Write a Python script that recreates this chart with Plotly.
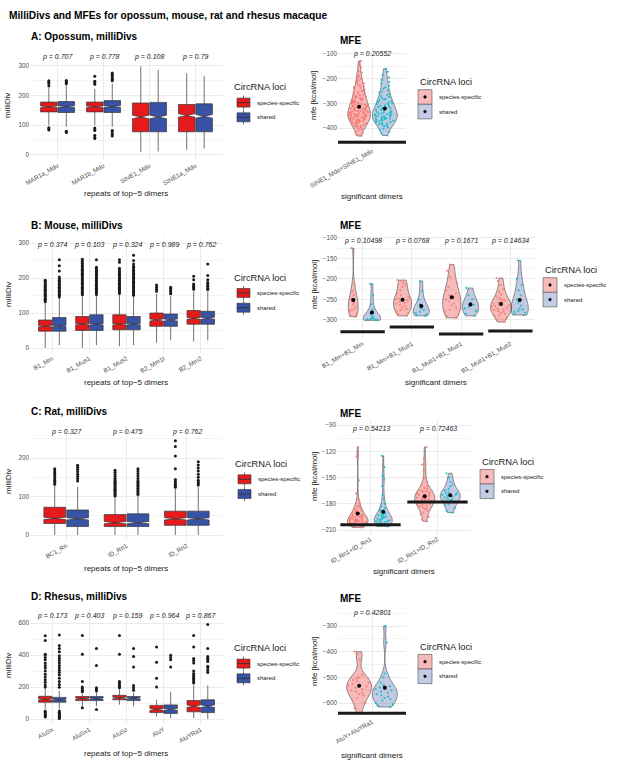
import numpy as np
import plotly.graph_objects as go

W, H = 617, 769
FONT = "Liberation Sans, Arial, sans-serif"
RED = "#E41A1C"
BLUE = "#3953A4"
RED_FILL = "rgba(228,26,28,0.3)"
BLUE_FILL = "rgba(57,83,164,0.3)"
RED_KEY = "#F7BABB"
BLUE_KEY = "#C4CBE4"
RED_PT = "#F8766D"
BLUE_PT = "#00BFC4"
GROUPS = ["species-specific", "shared"]

# ---------------- milliDivs (box stats: q1, median, q3, lower whisker, upper whisker)
opossum_repeats = ["MAR1a_Mdo", "MAR1b_Mdo", "SINE1_Mdo", "SINE1a_Mdo"]
opossum_p = ["0.707", "0.778", "0.108", "0.79"]
opossum_ss_box = [[145, 162, 178, 100, 228], [145, 162, 178, 100, 222], [78, 128, 175, 10, 298], [78, 133, 170, 17, 275]]
opossum_sh_box = [[143, 163, 180, 95, 235], [143, 163, 183, 95, 240], [78, 128, 177, 12, 287], [78, 130, 172, 22, 265]]
opossum_ss_notch = [3, 3, 6, 6]
opossum_sh_notch = [3, 3, 6, 6]
opossum_ss_out = [[250, 246, 241, 233, 92, 88, 84], [265, 248, 243, 238, 91, 86, 82, 66, 60, 55], [], []]
opossum_sh_out = [[251, 247, 243, 240, 80, 76], [276, 271, 266, 261, 255, 250, 82, 77, 70, 64], [], []]

mouse_repeats = ["B1_Mm", "B1_Mus1", "B1_Mus2", "B2_Mm1t", "B2_Mm2"]
mouse_p = ["0.374", "0.103", "0.324", "0.989", "0.762"]
mouse_ss_box = [[48, 62, 80, 0, 128], [50, 68, 90, 0, 148], [52, 68, 95, 5, 152], [62, 80, 100, 15, 155], [68, 85, 107, 18, 162]]
mouse_sh_box = [[48, 63, 87, 8, 143], [50, 68, 95, 8, 150], [52, 68, 90, 8, 148], [62, 80, 97, 22, 148], [68, 85, 105, 22, 162]]
mouse_ss_notch = [2, 2, 2, 3, 3]
mouse_sh_notch = [2, 2, 2, 3, 3]
mouse_ss_out = [
    [132, 136, 139, 143, 147, 150, 154, 157, 161, 165, 168, 172, 175, 179, 183, 186, 190, 194],
    [152, 156, 159, 163, 167, 170, 174, 178, 181, 185, 189, 192, 196, 200, 203, 207, 211, 214, 218, 222, 225, 229, 233, 237, 242, 248, 254],
    [156, 160, 163, 167, 171, 174, 178, 182, 185, 189, 193, 196, 200, 204, 207, 211, 215, 219, 223, 228, 245, 252],
    [162, 168, 174, 180],
    [168, 172, 176, 180, 183, 195, 205],
]
mouse_sh_out = [
    [146, 150, 154, 158, 162, 166, 170, 174, 178, 182, 186, 190, 194, 198, 203, 220, 235, 252],
    [153, 157, 160, 164, 168, 171, 175, 179, 182, 186, 190, 193, 197, 201, 204, 208, 212, 215, 219, 223, 227, 231, 252],
    [151, 155, 158, 162, 166, 169, 173, 177, 180, 184, 188, 191, 195, 199, 202, 206, 210, 214, 218, 222, 226, 230, 234, 240, 250, 265],
    [155, 160, 165, 170, 174],
    [167, 171, 175, 179, 183, 187, 195, 207, 240],
]

rat_repeats = ["BC1_Rn", "ID_Rn1", "ID_Rn2"]
rat_p = ["0.327", "0.475", "0.762"]
rat_ss_box = [[30, 43, 72, 0, 128], [22, 32, 53, 0, 98], [25, 42, 62, 0, 120]]
rat_sh_box = [[22, 42, 65, 0, 125], [22, 32, 55, 0, 102], [25, 42, 62, 0, 126]]
rat_ss_notch = [3, 3, 3]
rat_sh_notch = [3, 3, 3]
rat_ss_out = [
    [132, 137, 142, 147, 152, 157, 162, 167, 172],
    [101, 104, 107, 110, 113, 116, 119, 122, 125, 128, 131, 134, 137, 140, 143, 147, 152, 157, 163, 168],
    [124, 128, 132, 136, 140, 144, 172, 205, 230, 245],
]
rat_sh_out = [
    [140, 146, 152, 158, 164, 170, 176, 181],
    [105, 109, 113, 117, 121, 125, 129, 133, 137, 141, 147, 153, 160, 166, 172],
    [130, 134, 138, 142, 150, 158, 166, 174, 182, 190],
]

rhesus_repeats = ["AluSx", "AluSx1", "AluSz", "AluY", "AluYRa1"]
rhesus_p = ["0.173", "0.403", "0.159", "0.964", "0.867"]
rhesus_ss_box = [[105, 122, 142, 60, 195], [115, 127, 140, 80, 160], [120, 132, 148, 90, 185], [40, 60, 85, 15, 120], [45, 80, 115, 5, 210]]
rhesus_sh_box = [[105, 120, 135, 65, 178], [115, 127, 140, 80, 165], [115, 130, 140, 80, 165], [35, 60, 88, 5, 170], [40, 80, 120, 0, 210]]
rhesus_ss_notch = [4, 4, 5, 6, 8]
rhesus_sh_notch = [4, 4, 5, 6, 8]
rhesus_ss_out = [
    [200, 212, 230, 245, 262, 280, 300, 318, 335, 350, 370, 385, 400, 405, 490, 520, 12, 18, 25, 32, 40, 48],
    [170, 180, 190, 200, 235, 405, 522, 70],
    [195, 205, 215, 225, 235, 405, 522],
    [200, 255, 355, 450],
    [225, 235, 245, 255, 265, 275, 285, 300, 350, 365, 378, 450, 522],
]
rhesus_sh_out = [
    [198, 215, 235, 255, 275, 290, 305, 320, 335, 350, 365, 380, 395, 420, 440, 460, 525, 3, 8, 14, 20, 27, 34, 42, 50],
    [175, 185, 195, 335, 440, 60],
    [180, 195, 210, 325, 390, 440],
    [325, 370, 385, 398],
    [290, 305, 320, 330, 360, 370, 380, 390, 440, 590],
]

# ---------------- MFEs (kcal/mol) per significant dimer
opossum_dimers = ["SINE1_Mdo+SINE1_Mdo"]
opossum_mfe_p = ["0.20552"]
opossum_mfe_base = [-457]
opossum_mfe_ss = [[
    -128, -142, -155, -168, -175, -183, -190, -196, -201, -206, -211, -215, -219, -223, -227, -231, -234, -238,
    -241, -244, -247, -250, -253, -256, -258, -261, -263, -266, -268, -270, -272, -275, -277, -279, -281, -283,
    -285, -287, -289, -291, -293, -294, -296, -298, -300, -301, -303, -305, -306, -308, -310, -311, -313, -315,
    -316, -318, -320, -321, -323, -325, -326, -328, -330, -331, -333, -335, -336, -338, -340, -341, -343, -345,
    -346, -348, -350, -352, -354, -356, -358, -360, -362, -364, -366, -368, -370, -372, -375, -377, -380, -383,
    -386, -389, -392, -395, -398, -402, -406, -410, -415, -420, -426, -432, -335, -342, -348, -352, -357, -361,
    -365, -371, -378, -344, -338, -329, -317, -355, -362, -368, -374, -381, -388, -394, -347, -333,
]]
opossum_mfe_sh = [[
    -160, -172, -185, -195, -205, -213, -220, -228, -235, -241, -247, -252, -257, -262, -266, -270, -274, -278,
    -282, -285, -288, -291, -294, -297, -300, -302, -305, -308, -310, -313, -315, -318, -320, -322, -325, -327,
    -330, -332, -334, -337, -339, -341, -344, -346, -348, -351, -353, -356, -358, -361, -364, -367, -370, -373,
    -376, -380, -384, -388, -392, -397, -402, -408, -415, -422, -430, -340, -347, -352, -357, -362, -369, -375,
    -382, -335, -344, -359, -366, -390,
]]

mouse_dimers = ["B1_Mm+B1_Mm", "B1_Mm+B1_Mus1", "B1_Mus1+B1_Mus1", "B1_Mus1+B1_Mus2"]
mouse_mfe_p = ["0.10498", "0.0768", "0.1671", "0.14634"]
mouse_mfe_base = [-329, -317, -334, -327]
mouse_mfe_ss = [
    [-125, -212, -230, -240, -248, -252, -258, -262, -270, -275, -278, -285, -290, -292],
    [-203, -205, -210, -215, -220, -228, -235, -240, -245, -248, -250, -253, -256, -258, -260, -263, -266, -270,
     -273, -276, -280, -283, -286, -290],
    [-165, -180, -195, -210, -220, -228, -235, -240, -245, -250, -255, -260, -265, -270, -275, -280, -286, -290, -295],
    [-198, -205, -215, -225, -232, -238, -242, -246, -250, -253, -256, -258, -260, -262, -264, -266, -268, -270,
     -272, -274, -276, -278, -280, -282, -285, -288, -291, -295, -300, -305],
]
mouse_mfe_sh = [
    [-212, -240, -262, -275, -283, -288, -292, -295, -297, -298, -299, -300, -300, -301],
    [-205, -230, -250, -262, -268, -272, -276, -280, -283, -286, -288, -290],
    [-222, -240, -250, -258, -263, -268, -272, -278, -285, -290],
    [-155, -200, -215, -228, -240, -250, -258, -265, -272, -275, -278, -280, -282, -285, -288],
]

rat_dimers = ["ID_Rn1+ID_Rn1", "ID_Rn1+ID_Rn2"]
rat_mfe_p = ["0.54213", "0.72463"]
rat_mfe_base = [-204, -178]
rat_mfe_ss = [
    [-115, -123, -126, -153, -168, -175, -178, -180, -182, -183, -184, -185, -186, -187, -188, -189, -190, -190,
     -191, -192, -193, -193, -194, -195, -195, -196, -196, -197, -197, -198, -198, -199, -199, -199, -200, -200,
     -200, -201, -201, -201, -202, -202, -202, -203, -203, -203, -204, -204, -204, -205, -205, -205, -206, -206,
     -207, -198, -196, -194, -192, -200],
    [-115, -128, -135, -142, -150, -155, -158, -160, -162, -163, -165, -166, -167, -168, -169, -170, -171, -172,
     -173, -174, -175, -175, -176, -177, -178, -179, -180, -181, -182, -183, -184, -185, -186, -188, -190, -192,
     -195, -198, -200, -170, -172, -174, -168, -166, -178, -180],
]
rat_mfe_sh = [
    [-125, -138, -148, -152, -160, -170, -175, -180, -183, -185, -187, -189, -190, -191, -192, -193, -194, -195,
     -196, -197, -198, -199, -200, -200, -201, -201, -202, -202, -203, -203, -204, -204, -205, -205, -205, -206,
     -199, -197, -195, -193],
    [-145, -150, -155, -158, -160, -163, -165, -167, -168, -170, -171, -172, -173, -174, -175, -176, -178, -180,
     -182, -185, -188, -190, -170, -168],
]

rhesus_dimers = ["AluY+AluYRa1"]
rhesus_mfe_p = ["0.42801"]
rhesus_mfe_base = [-639]
rhesus_mfe_ss = [[-400, -410, -430, -490, -500, -505, -510, -515, -520, -525, -530, -535, -540, -545, -550,
                  -555, -560, -565, -570, -580, -590, -600, -620, -640]]
rhesus_mfe_sh = [[-300, -365, -485, -500, -520, -530, -535, -540, -545, -550, -555, -560, -565, -570, -575,
                  -580, -585, -590, -600, -605, -610, -615]]

# violin widths (x units) as drawn, per dimer: [species-specific, shared]
opossum_vw = [[0.30, 0.33]]
mouse_vw = [[0.20, 0.35], [0.37, 0.33], [0.37, 0.33], [0.43, 0.35]]
rat_vw = [[0.31, 0.27], [0.30, 0.30]]
rhesus_vw = [[0.33, 0.33]]


def fx(px):
    return px / W


def fy(py):
    return 1 - py / H


fig = go.Figure()
layout = {}
annotations = []
shapes = []


def axes(k, xdom, ydom, xrange_, yrange_, n, labels, dtick, minor):
    sx = "" if k == 1 else str(k)
    layout["xaxis" + sx] = dict(
        domain=[fx(xdom[0]), fx(xdom[1])], range=xrange_, anchor="y" + sx,
        tickvals=list(range(1, n + 1)), ticktext=labels, tickangle=-30,
        showgrid=True, gridcolor="#EBEBEB", gridwidth=0.8, zeroline=False, showline=False,
        ticks="", tickfont=dict(size=6.3, color="#4D4D4D"), automargin=False,
    )
    layout["yaxis" + sx] = dict(
        domain=[fy(ydom[1]), fy(ydom[0])], range=yrange_, anchor="x" + sx,
        dtick=dtick, tick0=0, showgrid=True, gridcolor="#EBEBEB", gridwidth=0.8,
        minor=dict(dtick=minor, showgrid=True, gridcolor="#F4F4F4", gridwidth=0.5),
        zeroline=False, showline=False, ticks="", tickfont=dict(size=6.3, color="#4D4D4D"),
        automargin=False,
    )
    return "x" + sx, "y" + sx


def text(s, xpx, ypx, size, bold=False, angle=0, xanchor="left"):
    annotations.append(dict(
        text="<b>%s</b>" % s if bold else s, x=fx(xpx), y=fy(ypx), xref="paper", yref="paper",
        xanchor=xanchor, yanchor="middle", showarrow=False, textangle=angle,
        font=dict(size=size, color="#000000" if bold else "#1A1A1A", family=FONT),
    ))


def rect(x0, y0, x1, y1, fill, line="#333333", lw=0.6, kind="rect"):
    shapes.append(dict(type=kind, xref="paper", yref="paper", x0=fx(x0), x1=fx(x1), y0=fy(y1), y1=fy(y0),
                       fillcolor=fill, line=dict(color=line, width=lw)))


def seg(x0, y0, x1, y1, color="#333333", lw=0.8):
    shapes.append(dict(type="line", xref="paper", yref="paper", x0=fx(x0), x1=fx(x1), y0=fy(y0), y1=fy(y1),
                       line=dict(color=color, width=lw)))


def box_legend(xt, yt):
    # ggplot-style key: boxplot glyph
    text("CircRNA loci", xt, yt, 9.3)
    for j, col in enumerate([RED, BLUE]):
        yc = yt + 15.3 + j * 14.7
        seg(xt + 11.5, yc - 7, xt + 11.5, yc + 7, "#4D4D4D", 0.8)
        rect(xt + 5, yc - 4.5, xt + 18, yc + 4.5, col)
        seg(xt + 5, yc, xt + 18, yc, "#333333", 0.9)
        text(GROUPS[j], xt + 23, yc, 6)


def violin_legend(xt, yt):
    text("CircRNA loci", xt, yt, 9.3)
    for j, col in enumerate([RED_KEY, BLUE_KEY]):
        yc = yt + 15 + j * 14.6
        rect(xt, yc - 7.3, xt + 14, yc + 7.3, col, "#4D4D4D", 0.6)
        rect(xt + 5.6, yc - 1.4, xt + 8.4, yc + 1.4, "#000000", "#000000", 0.3, kind="circle")
        text(GROUPS[j], xt + 19, yc, 6)


def box_panel(k, repeats, pvals, p_y, boxes, notches, outs, xdom, ydom, yrange_, dtick, minor, leg_xy):
    n = len(repeats)
    xa, ya = axes(k, xdom, ydom, [0.4, n + 0.6], yrange_, n, repeats, dtick, minor)
    for g, (stats, notch, out, col) in enumerate(zip(boxes, notches, outs, [RED, BLUE])):
        off = -0.19 if g == 0 else 0.19
        pos = [i + 1 + off for i in range(n)]
        fig.add_trace(go.Box(
            x=pos, q1=[s[0] for s in stats], median=[s[1] for s in stats], q3=[s[2] for s in stats],
            lowerfence=[s[3] for s in stats], upperfence=[s[4] for s in stats],
            notched=True, notchspan=notch, notchwidth=0.5, width=0.36, whiskerwidth=0,
            fillcolor=col, line=dict(color="#333333", width=0.7), boxpoints=False,
            name=GROUPS[g], xaxis=xa, yaxis=ya, showlegend=False,
        ))
        ox = [pos[i] for i in range(n) for _ in out[i]]
        oy = [v for i in range(n) for v in out[i]]
        fig.add_trace(go.Scatter(
            x=ox, y=oy, mode="markers", marker=dict(color="#1A1A1A", size=3),
            showlegend=False, xaxis=xa, yaxis=ya, hoverinfo="skip",
        ))
    for i, p in enumerate(pvals):
        annotations.append(dict(
            text="<i>p = %s</i>" % p, x=i + 1, y=p_y, xref=xa, yref=ya, showarrow=False,
            font=dict(size=7, color="#1A1A1A", family=FONT),
        ))
    box_legend(*leg_xy)


def violin_panel(k, dimers, pvals, p_y, ss, sh, base, off, vws, xrange_, xdom, ydom, yrange_, dtick, minor, leg_xy):
    n = len(dimers)
    xa, ya = axes(k, xdom, ydom, xrange_, yrange_, n, dimers, dtick, minor)
    for g, (vals, fill, ptc) in enumerate([(ss, RED_FILL, RED_PT), (sh, BLUE_FILL, BLUE_PT)]):
        o = -off if g == 0 else off
        for i in range(n):
            fig.add_trace(go.Violin(
                x=[i + 1 + o] * len(vals[i]), y=vals[i], width=vws[i][g], scalemode="width", spanmode="hard",
                points="all", jitter=0.9, pointpos=0,
                marker=dict(color=ptc, size=2.2, opacity=0.85),
                fillcolor=fill, line=dict(color="#4D4D4D", width=0.6),
                name=GROUPS[g], showlegend=False, xaxis=xa, yaxis=ya, hoverinfo="skip",
            ))
    for g, vals in enumerate([ss, sh]):
        o = -off if g == 0 else off
        fig.add_trace(go.Scatter(
            x=[i + 1 + o for i in range(n)], y=[float(np.mean(v)) for v in vals], mode="markers",
            marker=dict(color="#000000", size=4), showlegend=False, xaxis=xa, yaxis=ya,
        ))
    for i, b in enumerate(base):
        fig.add_trace(go.Scatter(
            x=[i + 1 - 0.45, i + 1 + 0.45], y=[b, b], mode="lines",
            line=dict(color="#1A1A1A", width=3), showlegend=False, xaxis=xa, yaxis=ya,
        ))
    for i, p in enumerate(pvals):
        annotations.append(dict(
            text="<i>p = %s</i>" % p, x=i + 1, y=p_y, xref=xa, yref=ya, showarrow=False,
            font=dict(size=7, color="#1A1A1A", family=FONT),
        ))
    violin_legend(*leg_xy)


# row A
box_panel(1, opossum_repeats, opossum_p, 330, [opossum_ss_box, opossum_sh_box],
          [opossum_ss_notch, opossum_sh_notch], [opossum_ss_out, opossum_sh_out],
          (30, 223), (52.5, 160), [-17, 345], 100, 50, (232, 87.3))
violin_panel(2, opossum_dimers, opossum_mfe_p, -100, opossum_mfe_ss, opossum_mfe_sh, opossum_mfe_base,
             0.17, opossum_vw, [0.55, 1.45], (338, 406), (47.8, 145.4), [-470, -75], 100, 50, (418, 82))
# row B
box_panel(3, mouse_repeats, mouse_p, 294, [mouse_ss_box, mouse_sh_box],
          [mouse_ss_notch, mouse_sh_notch], [mouse_ss_out, mouse_sh_out],
          (30, 223), (237.8, 352.9), [-14, 315], 100, 50, (232, 277.7))
violin_panel(4, mouse_dimers, mouse_mfe_p, -107, mouse_mfe_ss, mouse_mfe_sh, mouse_mfe_base,
             0.19, mouse_vw, [0.5, 4.5], (338, 535), (233, 338), [-344, -88], 50, 25, (543, 270))
# row C
box_panel(5, rat_repeats, rat_p, 268, [rat_ss_box, rat_sh_box],
          [rat_ss_notch, rat_sh_notch], [rat_ss_out, rat_sh_out],
          (30, 223), (425.3, 540), [-13, 285], 100, 50, (233, 464))
violin_panel(6, rat_dimers, rat_mfe_p, -94.5, rat_mfe_ss, rat_mfe_sh, rat_mfe_base,
             0.19, rat_vw, [0.5, 2.5], (337, 471), (420, 533.5), [-214, -84], 30, 15, (480, 461.7))
# row D
box_panel(7, rhesus_repeats, rhesus_p, 644, [rhesus_ss_box, rhesus_sh_box],
          [rhesus_ss_notch, rhesus_sh_notch], [rhesus_ss_out, rhesus_sh_out],
          (30, 223), (609.4, 723.8), [-30, 685], 200, 100, (232, 648.3))
violin_panel(8, rhesus_dimers, rhesus_mfe_p, -250, rhesus_mfe_ss, rhesus_mfe_sh, rhesus_mfe_base,
             0.17, rhesus_vw, [0.55, 1.45], (338, 406), (607.5, 716), [-650, -228], 100, 50, (418, 646.7))

# titles
text("MilliDivs and MFEs for opossum, mouse, rat and rhesus macaque", 7, 15, 10.2, bold=True)
for label, y in [("A: Opossum, milliDivs", 37), ("B: Mouse, milliDivs", 225),
                 ("C: Rat, milliDivs", 411), ("D: Rhesus, milliDivs", 596)]:
    text(label, 29, y, 10, bold=True)
for y in [40, 225, 414, 598]:
    text("MFE", 338, y, 10, bold=True)

# axis titles
for yc, xt in [(106, 193), (295, 382), (482, 568), (666, 753)]:
    text("milliDiv", 8, yc, 8, angle=-90, xanchor="center")
    text("repeats of top\u22125 dimers", 126, xt, 8, xanchor="center")
for yc, xc, xt in [(96, 372, 196), (285, 436, 382), (477, 404, 571), (662, 372, 755)]:
    text("mfe [kcal/mol]", 314, yc, 8, angle=-90, xanchor="center")
    text("significant dimers", xc, xt, 8, xanchor="center")

layout.update(
    width=W, height=H, margin=dict(l=0, r=0, t=0, b=0),
    paper_bgcolor="white", plot_bgcolor="white",
    font=dict(family=FONT, color="#1A1A1A"),
    annotations=annotations, shapes=shapes, showlegend=False,
)
fig.update_layout(**layout)

# the page's default body margin would push the 617x769 figure off the window
fig.write_html("out.html", config={"displayModeBar": False},
               post_script="document.body.style.margin='0';document.body.style.overflow='hidden';")
